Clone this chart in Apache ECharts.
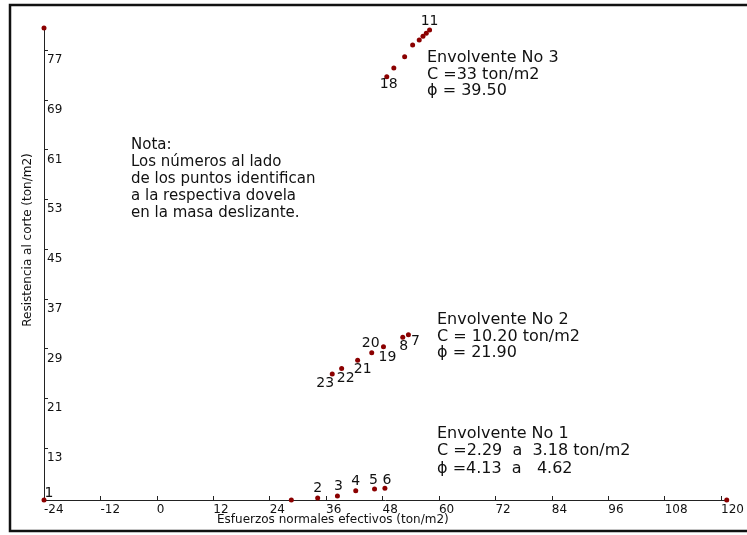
<!DOCTYPE html>
<html>
<head>
<meta charset="utf-8">
<script src="https://cdn.jsdelivr.net/npm/echarts/dist/echarts.min.js"></script>
<style>
html,body{margin:0;padding:0;background:#fff;}
#chart{width:747px;height:535px;}
</style>
</head>
<body>
<div id="chart"></div>
<script>
// ---- data ----
const pointIds = ['1','2','3','4','5','6','7','8','11','12','13','14','15','16','17','18','19','20','21','22','23','','',''];
const sigmaN   = [-24, 34.2, 38.4, 42.3, 46.3, 48.5, 53.5, 52.3, 58.0, 57.3, 56.6, 55.8, 54.4, 52.7, 50.4, 48.9, 48.2, 45.7, 42.7, 39.3, 37.3, 28.6, -24, 121.2];
const tau      = [4.64, 4.96, 5.28, 6.14, 6.41, 6.52, 31.2, 30.8, 80.2, 79.7, 79.2, 78.6, 77.8, 75.9, 74.1, 72.7, 29.3, 28.3, 27.1, 25.8, 24.9, 4.64, 80.54, 4.64];
const shownLabels = ['1','2','3','4','5','6','7','8','11','18','19','20','21','22','23'];
const xTicks = [-24, -12, 0, 12, 24, 36, 48, 60, 72, 84, 96, 108, 120];
const yTicks = [13, 21, 29, 37, 45, 53, 61, 69, 77];
const xRange = [-24, 121.3];
const yRange = [4.64, 80.54];
const xName = 'Esfuerzos normales efectivos (ton/m2)';
const yName = 'Resistencia al corte (ton/m2)';
const notaLines = ['Nota:', 'Los números al lado', 'de los puntos identifican', 'a la respectiva dovela', 'en la masa deslizante.'];
const env3Lines = ['Envolvente No 3', 'C =33 ton/m2', 'ϕ = 39.50'];
const env2Lines = ['Envolvente No 2', 'C = 10.20 ton/m2', 'ϕ = 21.90'];
const env1Lines = ['Envolvente No 1', 'C =2.29  a  3.18 ton/m2', 'ϕ =4.13  a   4.62'];

// ---- label placement (style) ----
const labelOffset = {
  '1':[5,-7], '2':[0,-10], '3':[1,-10], '4':[0,-9], '5':[-1,-8.5], '6':[2,-8],
  '7':[7,7], '8':[1,9], '11':[0,-9], '18':[2,8],
  '19':[4,10.5], '20':[-1,-10], '21':[5,9], '22':[4,10], '23':[-7,9]
};

const FONT = 'DejaVu Sans';
const TXT = '#111';

const data = sigmaN.map((x, i) => {
  const id = pointIds[i];
  const show = shownLabels.indexOf(id) >= 0;
  return {
    value: [x, tau[i]],
    name: id,
    label: {
      show: show,
      position: 'inside',
      offset: show ? labelOffset[id] : [0,0],
      formatter: id,
      align: 'center',
      verticalAlign: 'middle'
    }
  };
});

function textBlock(lines, left, top, lh, size) {
  return {
    type: 'text', left: left, top: top, z: 10,
    style: { text: lines.join('\n'), font: size + 'px "' + FONT + '"', fill: TXT, lineHeight: lh }
  };
}

const chart = echarts.init(document.getElementById('chart'), null, {renderer: 'canvas'});
chart.setOption({
  animation: false,
  backgroundColor: '#fff',
  grid: { left: 44, right: 19, top: 28, bottom: 35 },
  xAxis: {
    type: 'value', min: xRange[0], max: xRange[1],
    axisLine: { show: true, onZero: false, lineStyle: { color: '#222', width: 1 } },
    axisTick: { show: true, inside: true, length: 4, customValues: xTicks, lineStyle: { color: '#222' } },
    axisLabel: { customValues: xTicks, align: 'left', margin: 4, fontFamily: FONT, fontSize: 12, color: TXT },
    splitLine: { show: false }
  },
  yAxis: {
    type: 'value', min: yRange[0], max: yRange[1],
    axisLine: { show: true, onZero: false, lineStyle: { color: '#222', width: 1 } },
    axisTick: { show: true, inside: true, length: 4, customValues: yTicks, lineStyle: { color: '#222' } },
    axisLabel: { customValues: yTicks, inside: true, align: 'left', verticalAlign: 'top', margin: 3, padding: [4,0,0,0], fontFamily: FONT, fontSize: 12, color: TXT },
    splitLine: { show: false }
  },
  series: [{
    type: 'scatter',
    clip: false,
    symbol: 'circle',
    symbolSize: 5,
    itemStyle: { color: '#8b0000', opacity: 1 },
    label: { fontFamily: FONT, fontSize: 14, color: TXT },
    emphasis: { disabled: true },
    data: data
  }],
  graphic: [
    { type: 'rect', shape: { x: 10, y: 5, width: 800, height: 526 }, style: { fill: 'none', stroke: '#111', lineWidth: 2.5 }, z: 0 },
    { type: 'text', left: 217, top: 514, z: 10, style: { text: xName, font: '12px "' + FONT + '"', fill: TXT } },
    { type: 'text', x: 28, y: 240, rotation: Math.PI / 2, z: 10,
      style: { text: yName, font: '12px "' + FONT + '"', fill: TXT, align: 'center', verticalAlign: 'middle' } },
    textBlock(notaLines, 131, 137, 17, 15),
    textBlock(env3Lines, 427, 50, 16.5, 16),
    textBlock(env2Lines, 437, 312, 16.5, 16),
    textBlock(env1Lines, 437, 425, 17.5, 16)
  ]
});
</script>
</body>
</html>
